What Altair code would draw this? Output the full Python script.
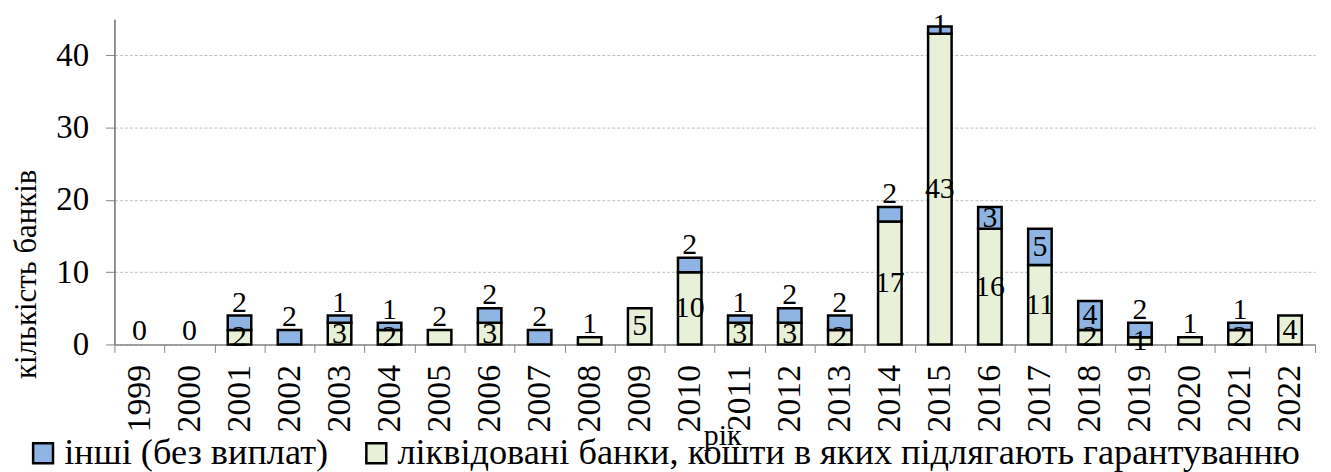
import altair as alt
import pandas as pd

years = [str(y) for y in range(1999, 2023)]
guaranteed = [0, 0, 2, 0, 3, 2, 2, 3, 0, 1, 5, 10, 3, 3, 2, 17, 43, 16, 11, 2, 1, 1, 2, 4]
others = [0, 0, 2, 2, 1, 1, 0, 2, 2, 0, 0, 2, 1, 2, 2, 2, 1, 3, 5, 4, 2, 0, 1, 0]
series_names = ["інші (без виплат)",
                "ліквідовані банки, кошти в яких підлягають гарантуванню"]
y_ticks = [0, 10, 20, 30, 40]
y_max = 45

BLUE = "#8db4e2"
GREEN = "#e8f0d8"
FONT = "Liberation Serif"

# long table for stacked bars
rows = []
for yr, g, o in zip(years, guaranteed, others):
    rows.append({"year": yr, "series": series_names[1], "value": g, "ord": 0})
    rows.append({"year": yr, "series": series_names[0], "value": o, "ord": 1})
df = pd.DataFrame(rows)

# label table (positions derived from the values)
lab = []
for yr, g, o in zip(years, guaranteed, others):
    total = g + o
    if g > 0:
        if o == 0 and g <= 2:
            lab.append({"year": yr, "text": str(g), "ypos": g, "place": "above"})
        else:
            lab.append({"year": yr, "text": str(g), "ypos": g / 2, "place": "inside"})
    if o >= 3:
        lab.append({"year": yr, "text": str(o), "ypos": g + o / 2, "place": "inside"})
    elif o > 0 or total == 0:
        lab.append({"year": yr, "text": str(o), "ypos": min(total, y_max - 2.6), "place": "above"})
ldf = pd.DataFrame(lab)

x_enc = alt.X(
    "year:N", sort=years,
    scale=alt.Scale(paddingInner=0, paddingOuter=0),
    axis=alt.Axis(
        title="рік", labelAngle=-90, tickBand="extent", tickSize=8,
        tickColor="#868686", domainColor="#868686", domainWidth=1.5,
        labelFont=FONT, labelFontSize=34, labelColor="black", labelPadding=12,
        titleFont=FONT, titleFontSize=30, titleFontWeight="normal", titleColor="black",
        titleX=611, titleY=92, titleAnchor=None, titleBaseline="middle", titleAlign="center",
        grid=False,
    ),
)


def y_enc(field):
    return alt.Y(
        field, type="quantitative", stack=None if field != "value" else "zero",
        scale=alt.Scale(domain=[0, y_max], nice=False),
        axis=alt.Axis(
            title="кількість банків", values=y_ticks, tickSize=9,
            tickColor="#868686", domainColor="#6e6e6e", domainWidth=1.5,
            labelFont=FONT, labelFontSize=33, labelColor="black", labelPadding=17,
            titleFont=FONT, titleFontSize=31, titleFontWeight="normal", titleColor="black",
            titleX=-88, titleY=256, titleAngle=270, titleAlign="center", titleBaseline="middle",
            grid=True, gridColor="#bdbdbd", gridDash=[3, 2], gridWidth=1,
        ),
    )


bars = alt.Chart(df).transform_filter("datum.value > 0").mark_bar(
    stroke="black", strokeWidth=2.5, width=alt.RelativeBandSize(0.47)
).encode(
    x=x_enc,
    y=y_enc("value"),
    color=alt.Color(
        "series:N",
        scale=alt.Scale(domain=series_names, range=[BLUE, GREEN]),
        legend=alt.Legend(
            title=None, orient="none", legendX=-90, legendY=418, direction="horizontal",
            symbolType="square", symbolSize=400, symbolStrokeColor="black",
            symbolStrokeWidth=2.5, labelFont=FONT, labelFontSize=36.5, labelColor="black",
            columnPadding=30, labelOffset=3, padding=0, labelLimit=1000,
        ),
    ),
    order=alt.Order("ord:Q"),
)

inside = alt.Chart(ldf).transform_filter("datum.place == 'inside'").mark_text(
    font=FONT, fontSize=30, color="black", baseline="middle", align="center"
).encode(x=x_enc, y=y_enc("ypos"), text="text:N")

above = alt.Chart(ldf).transform_filter("datum.place == 'above'").mark_text(
    font=FONT, fontSize=30, color="black", baseline="alphabetic", align="center", dy=-4
).encode(x=x_enc, y=y_enc("ypos"), text="text:N")

chart = alt.layer(bars, inside, above).properties(
    width=1207, height=327,
    autosize=alt.AutoSizeParams(type="none"),
    padding={"left": 107, "top": 10, "right": 8, "bottom": 127},
).configure_view(stroke=None)

chart.save("out.html", embed_options={"renderer": "svg", "actions": False})
